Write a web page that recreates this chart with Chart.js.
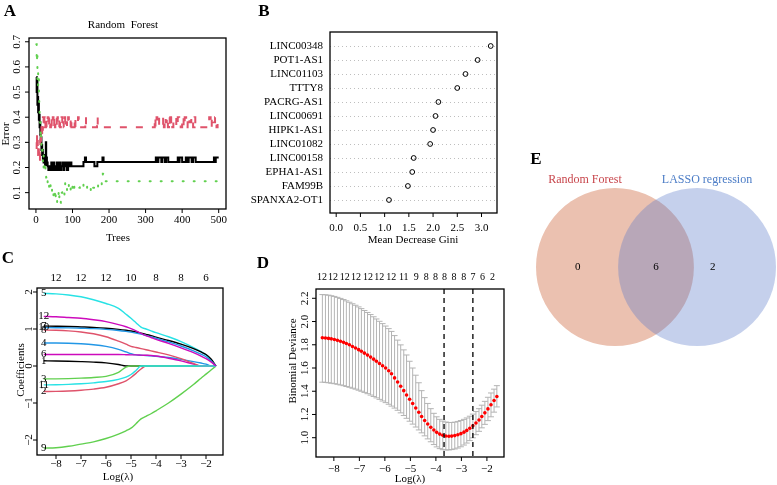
<!DOCTYPE html>
<html>
<head>
<meta charset="utf-8">
<script src="https://cdn.jsdelivr.net/npm/chart.js@4.4.0/dist/chart.umd.min.js"></script>
<style>
  html, body { margin: 0; padding: 0; background: #fff; }
  #wrap { position: relative; width: 777px; height: 485px; overflow: hidden; }
  canvas { position: absolute; left: 0; top: 0; }
</style>
</head>
<body>
<div id="wrap">
  <canvas id="cA" width="777" height="485"></canvas>
  <canvas id="cB" width="777" height="485"></canvas>
  <canvas id="cC" width="777" height="485"></canvas>
  <canvas id="cD" width="777" height="485"></canvas>
  <canvas id="cE" width="777" height="485"></canvas>
</div>
<script>
// ---- A: random forest error vs trees, [tree, error] change points
const rfOob = [[1,0.56],[2,0.50],[3,0.55],[4,0.45],[5,0.48],[6,0.42],[7,0.46],[8,0.39],[9,0.41],[10,0.36],
  [11,0.38],[12,0.33],[13,0.30],[14,0.32],[15,0.27],[16,0.29],[17,0.25],[18,0.27],[19,0.23],[20,0.25],
  [21,0.22],[23,0.25],[25,0.21],[27,0.30],[28,0.24],[30,0.22],[32,0.205],[34,0.19],[37,0.205],[39,0.19],
  [42,0.22],[44,0.19],[46,0.205],[48,0.22],[50,0.19],[53,0.205],[55,0.19],[57,0.22],[59,0.19],[62,0.205],
  [64,0.22],[66,0.19],[69,0.205],[72,0.22],[75,0.19],[78,0.22],[80,0.205],[83,0.22],[85,0.19],[88,0.22],
  [91,0.205],[94,0.22],[97,0.205],[130,0.222],[134,0.24],[137,0.222],[160,0.205],[168,0.222],[182,0.24],[185,0.222],
  [328,0.24],[332,0.222],[335,0.24],[343,0.222],[346,0.24],[353,0.222],[356,0.24],[362,0.222],[388,0.24],[391,0.222],
  [393,0.24],[400,0.222],[410,0.24],[414,0.222],[418,0.24],[426,0.222],[430,0.24],[437,0.222],[487,0.24],[490,0.222],
  [492,0.24],[500,0.24]];
const rfClass1 = [[1,0.30],[2,0.27],[3,0.33],[4,0.29],[5,0.31],[6,0.25],[7,0.28],[8,0.23],[9,0.26],[10,0.22],
  [11,0.27],[12,0.31],[13,0.34],[14,0.30],[15,0.36],[16,0.33],[17,0.38],[18,0.35],[19,0.40],[21,0.36],
  [23,0.40],[24,0.36],[26,0.38],[27,0.40],[29,0.36],[31,0.38],[32,0.40],[34,0.36],[36,0.40],[38,0.38],
  [39,0.36],[41,0.40],[43,0.36],[45,0.38],[46,0.40],[48,0.36],[50,0.40],[52,0.36],[53,0.38],[55,0.40],
  [57,0.36],[59,0.40],[60,0.38],[62,0.36],[64,0.40],[66,0.36],[68,0.38],[70,0.40],[72,0.36],[74,0.38],
  [76,0.36],[78,0.40],[80,0.36],[82,0.38],[85,0.36],[88,0.40],[90,0.36],[95,0.40],[97,0.36],[100,0.38],
  [102,0.36],[106,0.40],[108,0.36],[115,0.40],[117,0.36],[135,0.40],[137,0.36],[167,0.40],[169,0.36],[325,0.40],
  [327,0.36],[330,0.40],[332,0.38],[335,0.40],[337,0.36],[348,0.40],[350,0.36],[352,0.40],[355,0.38],[358,0.40],
  [361,0.36],[364,0.40],[366,0.36],[370,0.40],[373,0.36],[376,0.38],[380,0.40],[384,0.36],[388,0.40],[392,0.38],
  [396,0.36],[400,0.40],[404,0.36],[407,0.40],[411,0.36],[415,0.40],[420,0.38],[425,0.40],[430,0.36],[434,0.40],
  [436,0.36],[474,0.40],[478,0.36],[481,0.40],[486,0.38],[490,0.40],[494,0.36],[497,0.40],[500,0.40]];
const rfClass2 = [[1,0.69],[2,0.62],[3,0.66],[4,0.55],[5,0.58],[6,0.52],[7,0.55],[8,0.48],[9,0.44],[10,0.40],
  [11,0.38],[12,0.34],[13,0.31],[14,0.33],[15,0.28],[16,0.26],[17,0.29],[18,0.24],[19,0.22],[20,0.25],
  [21,0.20],[22,0.22],[24,0.18],[26,0.20],[28,0.16],[30,0.17],[32,0.14],[34,0.15],[36,0.12],[38,0.14],
  [40,0.11],[42,0.12],[44,0.10],[46,0.11],[48,0.08],[50,0.10],[52,0.07],[54,0.09],[56,0.06],[58,0.08],
  [60,0.10],[62,0.07],[64,0.09],[66,0.06],[68,0.08],[70,0.10],[72,0.11],[75,0.09],[78,0.12],[80,0.14],
  [82,0.11],[85,0.13],[88,0.12],[90,0.14],[95,0.10],[100,0.14],[105,0.12],[110,0.11],[115,0.12],[120,0.13],
  [125,0.12],[130,0.14],[135,0.13],[140,0.11],[145,0.12],[150,0.10],[155,0.12],[160,0.13],[165,0.12],[170,0.14],
  [175,0.13],[180,0.15],[183,0.175],[186,0.145],[500,0.145]];
const treeTicks = [0, 100, 200, 300, 400, 500];
const errorTicks = [0.1, 0.2, 0.3, 0.4, 0.5, 0.6, 0.7];

// ---- B: variable importance
const genes = ['LINC00348','POT1-AS1','LINC01103','TTTY8','PACRG-AS1','LINC00691',
  'HIPK1-AS1','LINC01082','LINC00158','EPHA1-AS1','FAM99B','SPANXA2-OT1'];
const gini = [3.19, 2.92, 2.67, 2.50, 2.11, 2.05, 2.00, 1.94, 1.60, 1.57, 1.48, 1.09];
const giniTicks = [0, 0.5, 1, 1.5, 2, 2.5, 3];
const giniTickLabels = ['0.0','0.5','1.0','1.5','2.0','2.5','3.0'];

// ---- C: lasso coefficient paths
const coefLogLambda = [-8.49,-8,-7.5,-7,-6.5,-6,-5.5,-5.2,-5,-4.8,-4.6,-4.4,-4.2,-4,-3.5,-3,-2.5,-2.2,-2,-1.8,-1.6];
const coef1  = [0.14,0.135,0.128,0.118,0.105,0.085,0.04,0,0,0,0,0,0,0,0,0,0,0,0,0,0];
const coef2  = [-0.69,-0.686,-0.675,-0.655,-0.625,-0.575,-0.48,-0.40,-0.31,-0.20,-0.08,0,0,0,0,0,0,0,0,0,0];
const coef3  = [-0.35,-0.347,-0.34,-0.328,-0.31,-0.28,-0.17,-0.03,0,0,0,0,0,0,0,0,0,0,0,0,0];
const coef4  = [0.62,0.62,0.615,0.60,0.575,0.53,0.45,0.38,0.33,0.30,0.29,0.285,0.275,0.265,0.23,0.18,0.12,0.08,0.05,0,0];
const coef5  = [1.96,1.95,1.92,1.87,1.79,1.69,1.56,1.40,1.29,1.17,1.05,1.00,0.95,0.90,0.79,0.66,0.50,0.39,0.30,0.17,0];
const coef6  = [0.31,0.31,0.31,0.31,0.31,0.31,0.31,0.305,0.30,0.30,0.295,0.29,0.285,0.27,0.21,0.14,0.05,0,0,0,0];
const coef7  = [1.08,1.075,1.068,1.056,1.043,1.022,0.99,0.965,0.945,0.92,0.89,0.855,0.82,0.78,0.69,0.59,0.47,0.38,0.31,0.19,0];
const coef8  = [0.97,0.965,0.95,0.92,0.87,0.79,0.67,0.59,0.53,0.50,0.47,0.44,0.41,0.38,0.30,0.20,0.07,0,0,0,0];
const coef9  = [-2.22,-2.21,-2.17,-2.11,-2.05,-1.96,-1.84,-1.75,-1.68,-1.56,-1.43,-1.36,-1.29,-1.21,-1.00,-0.76,-0.50,-0.33,-0.22,-0.11,0];
const coef10 = [1.04,1.035,1.03,1.02,1.01,0.99,0.96,0.935,0.915,0.89,0.86,0.825,0.79,0.75,0.65,0.54,0.41,0.32,0.25,0.14,0];
const coef11 = [-0.51,-0.507,-0.497,-0.48,-0.455,-0.42,-0.36,-0.30,-0.23,-0.12,0,0,0,0,0,0,0,0,0,0,0];
const coef12 = [1.34,1.33,1.31,1.29,1.25,1.20,1.12,1.06,1.01,0.95,0.88,0.82,0.77,0.72,0.61,0.49,0.36,0.27,0.20,0.11,0];
const coefPaths = [coef1,coef2,coef3,coef4,coef5,coef6,coef7,coef8,coef9,coef10,coef11,coef12];
const lambdaTicks = [-8, -7, -6, -5, -4, -3, -2];
const lambdaTickLabels = ['\u22128','\u22127','\u22126','\u22125','\u22124','\u22123','\u22122'];
const coefTicks = [-2, -1, 0, 1, 2];
const coefTickLabels = ['\u22122','\u22121','0','1','2'];
const coefDf = ['12','12','12','10','8','8','6'];

// ---- D: cross-validation deviance
const cvLogLambda = [-8.45,-8.33,-8.21,-8.10,-7.98,-7.86,-7.74,-7.62,-7.51,-7.39,
  -7.27,-7.15,-7.03,-6.92,-6.80,-6.68,-6.56,-6.44,-6.33,-6.21,
  -6.09,-5.97,-5.85,-5.74,-5.62,-5.50,-5.38,-5.26,-5.15,-5.03,
  -4.91,-4.79,-4.67,-4.56,-4.44,-4.32,-4.20,-4.08,-3.97,-3.85,
  -3.73,-3.61,-3.49,-3.38,-3.26,-3.14,-3.02,-2.90,-2.79,-2.67,
  -2.55,-2.43,-2.31,-2.20,-2.08,-1.96,-1.84,-1.72,-1.61];
const cvMean = [1.860,1.858,1.855,1.851,1.845,1.838,1.830,1.821,1.811,1.800,
  1.785,1.772,1.758,1.744,1.728,1.711,1.694,1.676,1.658,1.639,
  1.620,1.600,1.576,1.550,1.515,1.480,1.443,1.405,1.368,1.331,
  1.294,1.256,1.219,1.183,1.148,1.118,1.090,1.066,1.046,1.031,
  1.021,1.015,1.013,1.014,1.018,1.025,1.035,1.048,1.063,1.081,
  1.102,1.126,1.153,1.182,1.214,1.248,1.284,1.320,1.355];
const cvUpper = [2.232,2.230,2.227,2.222,2.216,2.208,2.199,2.189,2.178,2.166,
  2.153,2.140,2.126,2.111,2.095,2.078,2.060,2.041,2.022,2.002,
  1.982,1.961,1.939,1.915,1.879,1.840,1.799,1.756,1.712,1.658,
  1.600,1.538,1.473,1.405,1.345,1.295,1.250,1.210,1.180,1.158,
  1.143,1.135,1.131,1.131,1.134,1.140,1.148,1.158,1.170,1.185,
  1.203,1.225,1.250,1.280,1.313,1.348,1.385,1.418,1.448];
const cvLower = [1.478,1.476,1.473,1.469,1.465,1.460,1.454,1.448,1.441,1.434,
  1.426,1.418,1.409,1.400,1.390,1.379,1.367,1.355,1.343,1.330,
  1.316,1.302,1.288,1.272,1.255,1.236,1.214,1.191,1.167,1.142,
  1.117,1.092,1.067,1.042,1.016,0.990,0.965,0.941,0.921,0.906,
  0.897,0.894,0.895,0.898,0.903,0.911,0.922,0.937,0.954,0.975,
  0.999,1.026,1.055,1.085,1.115,1.147,1.180,1.220,1.265];
const lambdaMin = -3.68;
const lambda1se = -2.55;
const cvDfAt = [-8.46,-8.03,-7.57,-7.13,-6.66,-6.22,-5.75,-5.26,-4.77,-4.38,-4.02,-3.66,-3.29,-2.91,-2.55,-2.17,-1.78];
const cvDf = ['12','12','12','12','12','12','12','11','9','8','8','8','8','8','7','6','2'];
const devTicks = [1.0, 1.2, 1.4, 1.6, 1.8, 2.0, 2.2];
const devTickLabels = ['1.0','1.2','1.4','1.6','1.8','2.0','2.2'];

// ---- E: venn
const vennSets = ['Random Forest', 'LASSO regression'];
const vennCounts = [0, 6, 2]; // RF only, both, LASSO only

// ---------------------------------------------------------------
const W = 777, H = 485;
const SERIF = '"Liberation Serif", "Times New Roman", serif';
const FONT = '11px ' + SERIF;
const LETTER = 'bold 17px ' + SERIF;
const R_COLS = ['#000000', '#DF536B', '#61D04F', '#2297E6', '#28E2E5', '#CD0BBC'];

const pairs = arr => arr.map(([x, y]) => ({ x, y }));

function baseOptions(box, xs, ys) {
  return {
    responsive: false,
    animation: false,
    events: [],
    layout: { padding: { left: box[0], top: box[1], right: W - box[2], bottom: H - box[3] } },
    plugins: { legend: { display: false }, tooltip: { enabled: false } },
    scales: {
      x: Object.assign({ type: 'linear', display: false }, xs),
      y: Object.assign({ type: 'linear', display: false }, ys),
    },
    elements: { point: { radius: 0 }, line: { tension: 0 } },
  };
}

function drawText(ctx, t) {
  ctx.save();
  ctx.font = t.font || FONT;
  ctx.fillStyle = t.color || '#000';
  ctx.textAlign = t.align || 'center';
  ctx.textBaseline = 'middle';
  ctx.translate(t.x, t.y);
  if (t.rot) ctx.rotate(-Math.PI / 2);
  ctx.fillText(t.t, 0, 0);
  ctx.restore();
}

// R-style axis: ticks outside the box, left labels turned upright
function drawAxis(chart, ax) {
  const ctx = chart.ctx, a = chart.chartArea;
  const sc = ax.side === 'left' ? chart.scales.y : chart.scales.x;
  ctx.save();
  ctx.strokeStyle = '#000';
  ctx.lineWidth = 1;
  ax.at.forEach((v, i) => {
    const p = sc.getPixelForValue(v);
    const lab = ax.labels ? ax.labels[i] : String(v);
    if (ax.tick) {
      ctx.beginPath();
      if (ax.side === 'bottom') { ctx.moveTo(p, a.bottom); ctx.lineTo(p, a.bottom + ax.tick); }
      else if (ax.side === 'left') { ctx.moveTo(a.left, p); ctx.lineTo(a.left - ax.tick, p); }
      ctx.stroke();
    }
    const font = ax.font;
    if (ax.side === 'bottom') drawText(ctx, { t: lab, x: p, y: a.bottom + ax.gap, font });
    else if (ax.side === 'top') drawText(ctx, { t: lab, x: p, y: a.top - ax.gap, font });
    else drawText(ctx, { t: lab, x: a.left - ax.gap, y: p, rot: true, font });
  });
  ctx.restore();
}

function rPlot(cfg) {
  return {
    id: 'rPlot',
    beforeDatasetsDraw(chart) { if (cfg.under) cfg.under(chart); },
    afterDraw(chart) {
      const ctx = chart.ctx, a = chart.chartArea;
      if (cfg.box !== false) {
        ctx.save();
        ctx.strokeStyle = '#000';
        ctx.lineWidth = 1.3;
        ctx.strokeRect(a.left, a.top, a.right - a.left, a.bottom - a.top);
        ctx.restore();
      }
      (cfg.axes || []).forEach(ax => drawAxis(chart, ax));
      if (cfg.over) cfg.over(chart);
      (cfg.texts || []).forEach(t => drawText(ctx, t));
    }
  };
}

// ---- A
new Chart(document.getElementById('cA'), {
  type: 'line',
  data: { datasets: [
    { data: pairs(rfOob), borderColor: R_COLS[0], borderWidth: 2, stepped: true, order: 3 },
    { data: pairs(rfClass1), borderColor: R_COLS[1], borderWidth: 2, borderDash: [7, 9], stepped: true, order: 2 },
    { data: pairs(rfClass2), borderColor: R_COLS[2], borderWidth: 2, borderDash: [1, 10], borderCapStyle: 'round', stepped: true, order: 1 },
  ]},
  options: baseOptions([29, 38, 226, 209], { min: -19, max: 520 }, { min: 0.035, max: 0.715 }),
  plugins: [rPlot({
    axes: [
      { side: 'bottom', at: treeTicks, tick: 4, gap: 11 },
      { side: 'left', at: errorTicks, tick: 4, gap: 12 },
    ],
    texts: [
      { t: 'A', x: 10, y: 12, font: LETTER },
      { t: 'Random  Forest', x: 123, y: 25 },
      { t: 'Trees', x: 118, y: 238 },
      { t: 'Error', x: 6, y: 134, rot: true },
    ],
  })],
});

// ---- B
new Chart(document.getElementById('cB'), {
  type: 'scatter',
  data: { datasets: [{
    data: gini.map((v, i) => ({ x: v, y: i + 1 })),
    pointRadius: 2.4, pointBorderWidth: 1, pointBorderColor: '#000', pointBackgroundColor: 'rgba(0,0,0,0)',
  }]},
  options: baseOptions([330, 32, 497, 213], { min: -0.128, max: 3.32 }, { min: 0, max: 12.93, reverse: true }),
  plugins: [rPlot({
    under(chart) {
      const ctx = chart.ctx, a = chart.chartArea, y = chart.scales.y;
      ctx.save();
      ctx.strokeStyle = '#BEBEBE';
      ctx.lineWidth = 1;
      ctx.setLineDash([1, 3]);
      genes.forEach((g, i) => {
        const p = Math.round(y.getPixelForValue(i + 1)) + 0.5;
        ctx.beginPath(); ctx.moveTo(a.left, p); ctx.lineTo(a.right, p); ctx.stroke();
      });
      ctx.restore();
    },
    over(chart) {
      const a = chart.chartArea, y = chart.scales.y;
      genes.forEach((g, i) => drawText(chart.ctx, { t: g, x: a.left - 7, y: y.getPixelForValue(i + 1), align: 'right' }));
    },
    axes: [{ side: 'bottom', at: giniTicks, labels: giniTickLabels, tick: 4, gap: 15 }],
    texts: [
      { t: 'B', x: 264, y: 12, font: LETTER },
      { t: 'Mean Decrease Gini', x: 413, y: 240 },
    ],
  })],
});

// ---- C
new Chart(document.getElementById('cC'), {
  type: 'line',
  data: { datasets: coefPaths.map((c, i) => ({
    data: c.map((v, j) => ({ x: coefLogLambda[j], y: v })),
    borderColor: R_COLS[i % 6], borderWidth: 1.4, cubicInterpolationMode: 'monotone', order: 13 - i,
  }))},
  options: baseOptions([37, 288, 223, 455], { min: -8.76, max: -1.32 }, { min: -2.405, max: 2.108 }),
  plugins: [rPlot({
    over(chart) {
      const x = chart.scales.x, y = chart.scales.y;
      coefPaths.forEach((c, i) => drawText(chart.ctx, { t: String(i + 1), x: x.getPixelForValue(coefLogLambda[0]), y: y.getPixelForValue(c[0]) }));
    },
    axes: [
      { side: 'bottom', at: lambdaTicks, labels: lambdaTickLabels, tick: 4, gap: 9 },
      { side: 'top', at: lambdaTicks, labels: coefDf, gap: 10 },
      { side: 'left', at: coefTicks, labels: coefTickLabels, tick: 4, gap: 8 },
    ],
    texts: [
      { t: 'C', x: 8, y: 259, font: LETTER },
      { t: 'Log(\u03bb)', x: 118, y: 477 },
      { t: 'Coefficients', x: 21, y: 370, rot: true },
    ],
  })],
});

// ---- D
new Chart(document.getElementById('cD'), {
  type: 'scatter',
  data: { datasets: [{
    data: cvMean.map((v, i) => ({ x: cvLogLambda[i], y: v })),
    pointRadius: 1.8, pointBorderWidth: 0, pointBackgroundColor: '#FF0000',
  }]},
  options: baseOptions([316, 289, 504, 457], { min: -8.70, max: -1.33 }, { min: 0.834, max: 2.28 }),
  plugins: [rPlot({
    under(chart) {
      const ctx = chart.ctx, x = chart.scales.x, y = chart.scales.y;
      ctx.save();
      ctx.strokeStyle = '#B4B4B4';
      ctx.lineWidth = 1;
      cvLogLambda.forEach((v, i) => {
        const px = x.getPixelForValue(v), pu = y.getPixelForValue(cvUpper[i]), pl = y.getPixelForValue(cvLower[i]);
        ctx.beginPath();
        ctx.moveTo(px, pu); ctx.lineTo(px, pl);
        ctx.moveTo(px - 3, pu); ctx.lineTo(px + 3, pu);
        ctx.moveTo(px - 3, pl); ctx.lineTo(px + 3, pl);
        ctx.stroke();
      });
      ctx.restore();
    },
    over(chart) {
      const ctx = chart.ctx, a = chart.chartArea, x = chart.scales.x;
      ctx.save();
      ctx.strokeStyle = '#000';
      ctx.lineWidth = 1.3;
      ctx.setLineDash([5, 4]);
      [lambdaMin, lambda1se].forEach(v => {
        const p = x.getPixelForValue(v);
        ctx.beginPath(); ctx.moveTo(p, a.top); ctx.lineTo(p, a.bottom); ctx.stroke();
      });
      ctx.restore();
    },
    axes: [
      { side: 'bottom', at: lambdaTicks, labels: lambdaTickLabels, tick: 4, gap: 12 },
      { side: 'top', at: cvDfAt, labels: cvDf, gap: 12, font: '10px ' + SERIF },
      { side: 'left', at: devTicks, labels: devTickLabels, tick: 4, gap: 11 },
    ],
    texts: [
      { t: 'D', x: 263, y: 264, font: LETTER },
      { t: 'Log(\u03bb)', x: 410, y: 479 },
      { t: 'Binomial Deviance', x: 293, y: 361, rot: true },
    ],
  })],
});

// ---- E: two unit circles, centres 1.04 apart
const vennGap = 1.04;
new Chart(document.getElementById('cE'), {
  type: 'scatter',
  data: { datasets: [] },
  options: baseOptions([536, 188, 776, 346], { min: -1, max: vennGap + 1 }, { min: -1, max: 1 }),
  plugins: [rPlot({
    box: false,
    under(chart) {
      const ctx = chart.ctx, x = chart.scales.x, y = chart.scales.y;
      const r = x.getPixelForValue(1) - x.getPixelForValue(0);
      ctx.save();
      ctx.fillStyle = 'rgb(235,193,176)';
      ctx.beginPath(); ctx.arc(x.getPixelForValue(0), y.getPixelForValue(0), r, 0, Math.PI * 2); ctx.fill();
      ctx.fillStyle = 'rgba(89,121,201,0.35)';
      ctx.beginPath(); ctx.arc(x.getPixelForValue(vennGap), y.getPixelForValue(0), r, 0, Math.PI * 2); ctx.fill();
      ctx.restore();
    },
    over(chart) {
      const x = chart.scales.x, y = chart.scales.y;
      const at = [-0.47, vennGap / 2, vennGap + 0.2];
      vennCounts.forEach((n, i) => drawText(chart.ctx, { t: String(n), x: x.getPixelForValue(at[i]), y: y.getPixelForValue(0) }));
      drawText(chart.ctx, { t: vennSets[0], x: 585, y: 180, font: '12px ' + SERIF, color: '#C8464C' });
      drawText(chart.ctx, { t: vennSets[1], x: 707, y: 180, font: '12px ' + SERIF, color: '#4B7CC6' });
    },
    texts: [{ t: 'E', x: 536, y: 160, font: LETTER }],
  })],
});
</script>
</body>
</html>
